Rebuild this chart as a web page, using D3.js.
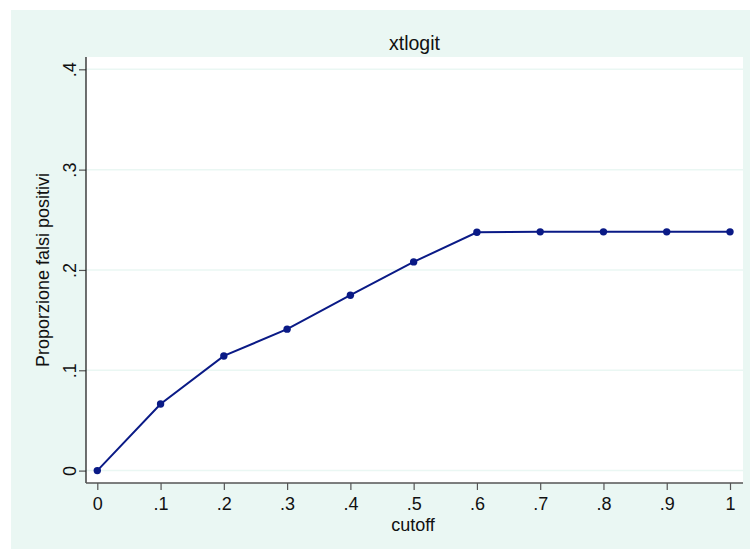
<!DOCTYPE html>
<html>
<head>
<meta charset="utf-8">
<script src="https://cdn.jsdelivr.net/npm/d3@7"></script>
<style>
  body { margin: 0; background: #fff; }
  text { font-family: "Liberation Sans", Arial, sans-serif; fill: #111; }
</style>
</head>
<body>
<div id="chart"></div>
<script>
// --------- DATA ---------
let cutoff = [0, 0.1, 0.2, 0.3, 0.4, 0.5, 0.6, 0.7, 0.8, 0.9, 1];
let falsiPositivi = [0, 0.0664, 0.1143, 0.1410, 0.1748, 0.2080, 0.2376, 0.2380, 0.2380, 0.2380, 0.2380];
let xTicks = [0, 0.1, 0.2, 0.3, 0.4, 0.5, 0.6, 0.7, 0.8, 0.9, 1];
let yTicks = [0, 0.1, 0.2, 0.3, 0.4];
let title = "xtlogit";
let xTitle = "cutoff";
let yTitle = "Proporzione falsi positivi";

// --------- GRAPHING ---------
let W = 750, H = 549;
let plot = {left: 86, right: 743, top: 57, bottom: 483};
let fontSize = 18;

let svg = d3.select("#chart")
    .append("svg")
    .attr("width", W)
    .attr("height", H);

// Outer graph region
svg.append("rect")
    .attr("x", 11).attr("y", 10)
    .attr("width", W - 11).attr("height", H - 10)
    .attr("fill", "#eaf7f3");

// Plot region
svg.append("rect")
    .attr("x", plot.left).attr("y", plot.top)
    .attr("width", plot.right - plot.left)
    .attr("height", plot.bottom - plot.top)
    .attr("fill", "#fff");

let xScale = d3.scaleLinear().domain([0, 1]).range([97.3, 730]);
let yScale = d3.scaleLinear().domain([0, 0.4]).range([470.6, 69.3]);

let fmt = d => d === 0 ? "0" : d === 1 ? "1" : d3.format(".1f")(d).replace(/^0/, "");

// Gridlines
svg.append("g")
    .selectAll("line")
    .data(yTicks)
    .join("line")
    .attr("x1", plot.left).attr("x2", plot.right)
    .attr("y1", d => yScale(d)).attr("y2", d => yScale(d))
    .attr("stroke", "#eaf7f3")
    .attr("stroke-width", 1.5);

// Y axis
let yAxis = svg.append("g")
    .attr("transform", "translate(" + plot.left + ",0)")
    .call(d3.axisLeft(yScale).tickValues(yTicks).tickFormat(fmt).tickSizeInner(7).tickSizeOuter(0));
yAxis.select(".domain").remove();
yAxis.append("line")
    .attr("y1", plot.top).attr("y2", plot.bottom)
    .attr("stroke", "#222").attr("stroke-width", 1.3);
yAxis.selectAll(".tick line").attr("stroke", "#555").attr("stroke-width", 1.2);
yAxis.selectAll(".tick text")
    .attr("x", null).attr("dy", null)
    .attr("transform", "translate(-10,0) rotate(-90)")
    .attr("text-anchor", "middle")
    .attr("font-size", fontSize)
    .attr("font-family", "Liberation Sans, Arial, sans-serif")
    .attr("fill", "#111");

// X axis
let xAxis = svg.append("g")
    .attr("transform", "translate(0," + plot.bottom + ")")
    .call(d3.axisBottom(xScale).tickValues(xTicks).tickFormat(fmt).tickSizeInner(7).tickSizeOuter(0));
xAxis.select(".domain").remove();
xAxis.append("line")
    .attr("x1", plot.left).attr("x2", plot.right)
    .attr("stroke", "#555").attr("stroke-width", 1.3);
xAxis.selectAll(".tick line").attr("stroke", "#555").attr("stroke-width", 1.2);
xAxis.selectAll(".tick text")
    .attr("y", 27).attr("dy", null)
    .attr("font-size", fontSize)
    .attr("font-family", "Liberation Sans, Arial, sans-serif")
    .attr("fill", "#111");

// Titles
svg.append("text")
    .attr("x", (plot.left + plot.right) / 2)
    .attr("y", 50)
    .attr("text-anchor", "middle")
    .attr("font-size", 19.5)
    .text(title);

svg.append("text")
    .attr("x", 413)
    .attr("y", 530.5)
    .attr("text-anchor", "middle")
    .attr("font-size", fontSize)
    .text(xTitle);

svg.append("text")
    .attr("transform", "translate(49," + yScale(0.2) + ") rotate(-90)")
    .attr("text-anchor", "middle")
    .attr("font-size", fontSize)
    .text(yTitle);

// Line and markers
let data = cutoff.map((c, i) => ({x: c, y: falsiPositivi[i]}));

let line = d3.line()
    .x(d => xScale(d.x))
    .y(d => yScale(d.y));

svg.append("path")
    .attr("fill", "none")
    .attr("stroke", "#0a1a86")
    .attr("stroke-width", 2)
    .attr("d", line(data));

svg.append("g")
    .selectAll("circle")
    .data(data)
    .join("circle")
    .attr("cx", d => xScale(d.x))
    .attr("cy", d => yScale(d.y))
    .attr("r", 3.7)
    .attr("fill", "#0a1a86");
</script>
</body>
</html>
